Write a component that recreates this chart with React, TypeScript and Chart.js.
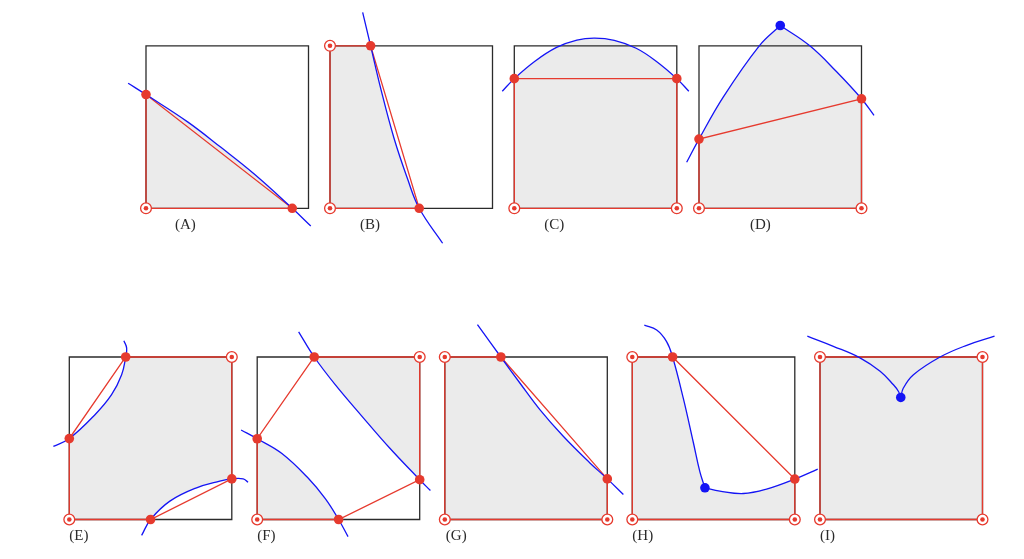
import React, { useEffect, useRef } from "react";
import { Chart, registerables } from "chart.js";

Chart.register(...registerables);

type P = [number, number];

// ---- Data: every panel in unit-square coordinates (u: 0 = left edge, 1 = right edge; v: 0 = bottom, 1 = top)
const panelLabels = ["(A)", "(B)", "(C)", "(D)", "(E)", "(F)", "(G)", "(H)", "(I)"];

const unitSquare: P[] = [[0, 0], [1, 0], [1, 1], [0, 1], [0, 0]];

// (A)
const curveA: P[] = [[-0.11, 0.77], [0, 0.7], [0.256, 0.532], [0.461, 0.375], [0.666, 0.211], [0.9, 0], [1.014, -0.109]];
const redA: P[] = [[0, 0], [0, 0.7], [0.9, 0], [0, 0]];
const dotsA: P[] = [[0, 0.7], [0.9, 0]];
const targetsA: P[] = [[0, 0]];

// (B)
const curveB: P[] = [[0.201, 1.206], [0.25, 1], [0.312, 0.738], [0.394, 0.431], [0.476, 0.185], [0.549, 0], [0.693, -0.215]];
const redB: P[] = [[0, 0], [0, 1], [0.25, 1], [0.549, 0], [0, 0]];
const dotsB: P[] = [[0.25, 1], [0.549, 0]];
const targetsB: P[] = [[0, 0], [0, 1]];

// (C)
const curveC: P[] = [[-0.074, 0.72], [0, 0.798], [0.127, 0.905], [0.26, 0.99], [0.385, 1.035], [0.495, 1.047], [0.615, 1.033], [0.75, 0.985], [0.873, 0.905], [1, 0.798], [1.074, 0.72]];
const redC: P[] = [[0, 0], [0, 0.798], [1, 0.798], [1, 0], [0, 0]];
const dotsC: P[] = [[0, 0.798], [1, 0.798]];
const targetsC: P[] = [[0, 0], [1, 0]];

// (D)
const curveD1: P[] = [[-0.076, 0.283], [0, 0.426], [0.15, 0.686], [0.371, 1.0], [0.5, 1.125]];
const curveD2: P[] = [[0.5, 1.125], [0.682, 1.0], [0.847, 0.84], [1, 0.674], [1.077, 0.572]];
const redD: P[] = [[0, 0], [0, 0.426], [1, 0.674], [1, 0], [0, 0]];
const dotsD: P[] = [[0, 0.426], [1, 0.674]];
const blueD: P[] = [[0.5, 1.125]];
const targetsD: P[] = [[0, 0], [1, 0]];

// (E)
const curveE1: P[] = [[-0.098, 0.45], [0, 0.498], [0.158, 0.645], [0.26, 0.768], [0.322, 0.891], [0.347, 1], [0.353, 1.055], [0.336, 1.1]];
const curveE2: P[] = [[0.445, -0.098], [0.5, 0], [0.619, 0.113], [0.783, 0.195], [0.926, 0.236], [1, 0.25], [1.07, 0.25], [1.1, 0.229]];
const redE: P[] = [[0, 0], [0, 0.498], [0.347, 1], [1, 1], [1, 0.25], [0.5, 0], [0, 0]];
const dotsE: P[] = [[0, 0.498], [0.347, 1], [1, 0.25], [0.5, 0]];
const targetsE: P[] = [[0, 0], [1, 1]];

// (F)
const curveF1: P[] = [[0.255, 1.155], [0.351, 1], [0.48, 0.83], [0.645, 0.635], [0.815, 0.44], [1, 0.245], [1.066, 0.178]];
const curveF2: P[] = [[-0.099, 0.551], [0, 0.497], [0.152, 0.406], [0.316, 0.252], [0.419, 0.128], [0.501, 0], [0.559, -0.105]];
const redF: P[] = [[0, 0], [0, 0.497], [0.351, 1], [1, 1], [1, 0.245], [0.501, 0], [0, 0]];
const dotsF: P[] = [[0, 0.497], [0.351, 1], [1, 0.245], [0.501, 0]];
const targetsF: P[] = [[0, 0], [1, 1]];

// (G)
const curveG: P[] = [[0.201, 1.199], [0.345, 1], [0.462, 0.84], [0.585, 0.676], [0.729, 0.512], [0.893, 0.348], [1, 0.25], [1.099, 0.154]];
const redG: P[] = [[0, 0], [0, 1], [0.345, 1], [1, 0.25], [1, 0], [0, 0]];
const dotsG: P[] = [[0.345, 1], [1, 0.25]];
const targetsG: P[] = [[0, 0], [0, 1], [1, 0]];

// (H)
const curveH1: P[] = [[0.074, 1.196], [0.15, 1.166], [0.211, 1.095], [0.248, 1], [0.314, 0.745], [0.375, 0.477], [0.416, 0.293], [0.447, 0.195]];
const curveH2: P[] = [[0.447, 0.195], [0.539, 0.175], [0.683, 0.16], [0.826, 0.187], [1, 0.249], [1.141, 0.31]];
const redH: P[] = [[0, 0], [0, 1], [0.248, 1], [1, 0.249], [1, 0], [0, 0]];
const dotsH: P[] = [[0.248, 1], [1, 0.249]];
const blueH: P[] = [[0.447, 0.195]];
const targetsH: P[] = [[0, 0], [0, 1], [1, 0]];

// (I)
const curveI1: P[] = [[-0.078, 1.128], [0.082, 1.066], [0.246, 0.995], [0.37, 0.912], [0.452, 0.829], [0.483, 0.788], [0.497, 0.751]];
const curveI2: P[] = [[0.497, 0.751], [0.513, 0.809], [0.575, 0.891], [0.739, 1.0], [0.903, 1.072], [1.074, 1.128]];
const redI: P[] = [[0, 0], [0, 1], [1, 1], [1, 0], [0, 0]];
const blueI: P[] = [[0.497, 0.751]];
const targetsI: P[] = [[0, 0], [0, 1], [1, 1], [1, 0]];

// Shaded (grey) regions, built from the curves and the square corners
const shadeA: P[] = [[0, 0], ...curveA.slice(1, 6)];
const shadeB: P[] = [[0, 0], [0, 1], ...curveB.slice(1, 6)];
const shadeC: P[] = [[0, 0], ...curveC.slice(1, 10), [1, 0]];
const shadeD: P[] = [[0, 0], ...curveD1.slice(1), ...curveD2.slice(1, 4), [1, 0]];
const shadeE: P[] = [[0, 0], ...curveE1.slice(1, 6), [1, 1], ...curveE2.slice(1, 6).reverse()];
const shadeF1: P[] = [...curveF1.slice(1, 6), [1, 1]];
const shadeF2: P[] = [[0, 0], ...curveF2.slice(1, 6)];
const shadeG: P[] = [[0, 0], [0, 1], ...curveG.slice(1, 7), [1, 0]];
const shadeH: P[] = [[0, 0], [0, 1], ...curveH1.slice(3), ...curveH2.slice(1, 5), [1, 0]];
const shadeI: P[] = [[0, 0], [0, 1], [1, 1], [1, 0]];

interface Panel {
  shades: P[][];
  red: P[];
  curves: P[][];
  dots: P[];
  blue: P[];
  targets: P[];
}

const panels: Panel[] = [
  { shades: [shadeA], red: redA, curves: [curveA], dots: dotsA, blue: [], targets: targetsA },
  { shades: [shadeB], red: redB, curves: [curveB], dots: dotsB, blue: [], targets: targetsB },
  { shades: [shadeC], red: redC, curves: [curveC], dots: dotsC, blue: [], targets: targetsC },
  { shades: [shadeD], red: redD, curves: [curveD1, curveD2], dots: dotsD, blue: blueD, targets: targetsD },
  { shades: [shadeE], red: redE, curves: [curveE1, curveE2], dots: dotsE, blue: [], targets: targetsE },
  { shades: [shadeF1, shadeF2], red: redF, curves: [curveF1, curveF2], dots: dotsF, blue: [], targets: targetsF },
  { shades: [shadeG], red: redG, curves: [curveG], dots: dotsG, blue: [], targets: targetsG },
  { shades: [shadeH], red: redH, curves: [curveH1, curveH2], dots: dotsH, blue: blueH, targets: targetsH },
  { shades: [shadeI], red: redI, curves: [curveI1, curveI2], dots: [], blue: blueI, targets: targetsI },
];

// ---- Layout (page pixels)
const W = 1024;
const H = 559;
const SIDE = 162.5;
const PANEL_LEFT = [146, 330, 514.3, 699, 69.3, 257.2, 444.8, 632.3, 820];
const PANEL_BOTTOM = [208.3, 208.3, 208.3, 208.3, 519.5, 519.5, 519.5, 519.5, 519.5];
const LABEL_DX = [29, 30, 30, 51, 0, 0, 1, 0, 0];
const LABEL_DY = 17;

// ---- Styles
const RED = "#e63a2e";
const BLUE = "#1414f5";
const GREY = "#ebebeb";
const BLACK = "#2b2b2b";

const toXY = (i: number, pts: P[]) =>
  pts.map(([u, v]) => ({ x: PANEL_LEFT[i] + u * SIDE, y: PANEL_BOTTOM[i] - v * SIDE }));

function buildDatasets() {
  const ds: any[] = [];
  const add = (d: any) => {
    ds.push({
      pointRadius: 0,
      pointHoverRadius: 0,
      borderWidth: 0,
      fill: false,
      tension: 0,
      clip: false,
      ...d,
      order: -ds.length,
    });
  };
  // grey regions
  panels.forEach((p, i) =>
    p.shades.forEach((s) =>
      add({ data: toXY(i, s), showLine: true, fill: "shape", backgroundColor: GREY, borderColor: "rgba(0,0,0,0)" })
    )
  );
  // square outlines
  panels.forEach((_, i) =>
    add({ data: toXY(i, unitSquare), showLine: true, borderColor: BLACK, borderWidth: 1.3 })
  );
  // red polygons
  panels.forEach((p, i) =>
    add({ data: toXY(i, p.red), showLine: true, borderColor: RED, borderWidth: 1.3 })
  );
  // blue curves
  panels.forEach((p, i) =>
    p.curves.forEach((c) =>
      add({ data: toXY(i, c), showLine: true, borderColor: BLUE, borderWidth: 1.3, tension: 0.4 })
    )
  );
  // red vertices
  panels.forEach((p, i) => {
    if (p.dots.length)
      add({ data: toXY(i, p.dots), showLine: false, pointRadius: 4.8, backgroundColor: RED, borderColor: RED, borderWidth: 0 });
  });
  // target markers (ring + centre dot)
  panels.forEach((p, i) => {
    add({ data: toXY(i, p.targets), showLine: false, pointRadius: 5.4, backgroundColor: "#ffffff", borderColor: RED, borderWidth: 1.3 });
    add({ data: toXY(i, p.targets), showLine: false, pointRadius: 2.3, backgroundColor: RED, borderColor: RED, borderWidth: 0 });
  });
  // blue critical points
  panels.forEach((p, i) => {
    if (p.blue.length)
      add({ data: toXY(i, p.blue), showLine: false, pointRadius: 4.8, backgroundColor: BLUE, borderColor: BLUE, borderWidth: 0 });
  });
  return ds;
}

const labelPlugin = {
  id: "panelLabels",
  afterDatasetsDraw(chart: any) {
    const { ctx, scales } = chart;
    ctx.save();
    ctx.font = "15px 'Liberation Serif', 'DejaVu Serif', serif";
    ctx.fillStyle = "#2a2a2a";
    ctx.textAlign = "left";
    ctx.textBaseline = "middle";
    panelLabels.forEach((t, i) => {
      ctx.fillText(
        t,
        scales.x.getPixelForValue(PANEL_LEFT[i] + LABEL_DX[i]),
        scales.y.getPixelForValue(PANEL_BOTTOM[i] + LABEL_DY)
      );
    });
    ctx.restore();
  },
};

export default function App() {
  const ref = useRef<HTMLCanvasElement | null>(null);
  useEffect(() => {
    if (!ref.current) return;
    const chart = new Chart(ref.current, {
      type: "scatter",
      data: { datasets: buildDatasets() },
      options: {
        animation: false,
        responsive: true,
        maintainAspectRatio: false,
        events: [],
        layout: { padding: 0 },
        plugins: { legend: { display: false }, tooltip: { enabled: false }, title: { display: false } },
        scales: {
          x: { type: "linear", min: 0, max: W, bounds: "data", display: false },
          y: { type: "linear", min: 0, max: H, bounds: "data", reverse: true, display: false },
        },
      } as any,
      plugins: [labelPlugin],
    });
    // Chart.js reserves room for the marker overflow; match the scale range to the
    // chart area so that one data unit is exactly one page pixel.
    const area = chart.chartArea;
    const opts: any = chart.options.scales;
    opts.x.min = area.left;
    opts.x.max = area.right;
    opts.y.min = area.top;
    opts.y.max = area.bottom;
    chart.update();
    return () => chart.destroy();
  }, []);
  return (
    <div style={{ position: "fixed", left: 0, top: 0, width: W, height: H, background: "#ffffff" }}>
      <canvas ref={ref} />
    </div>
  );
}
